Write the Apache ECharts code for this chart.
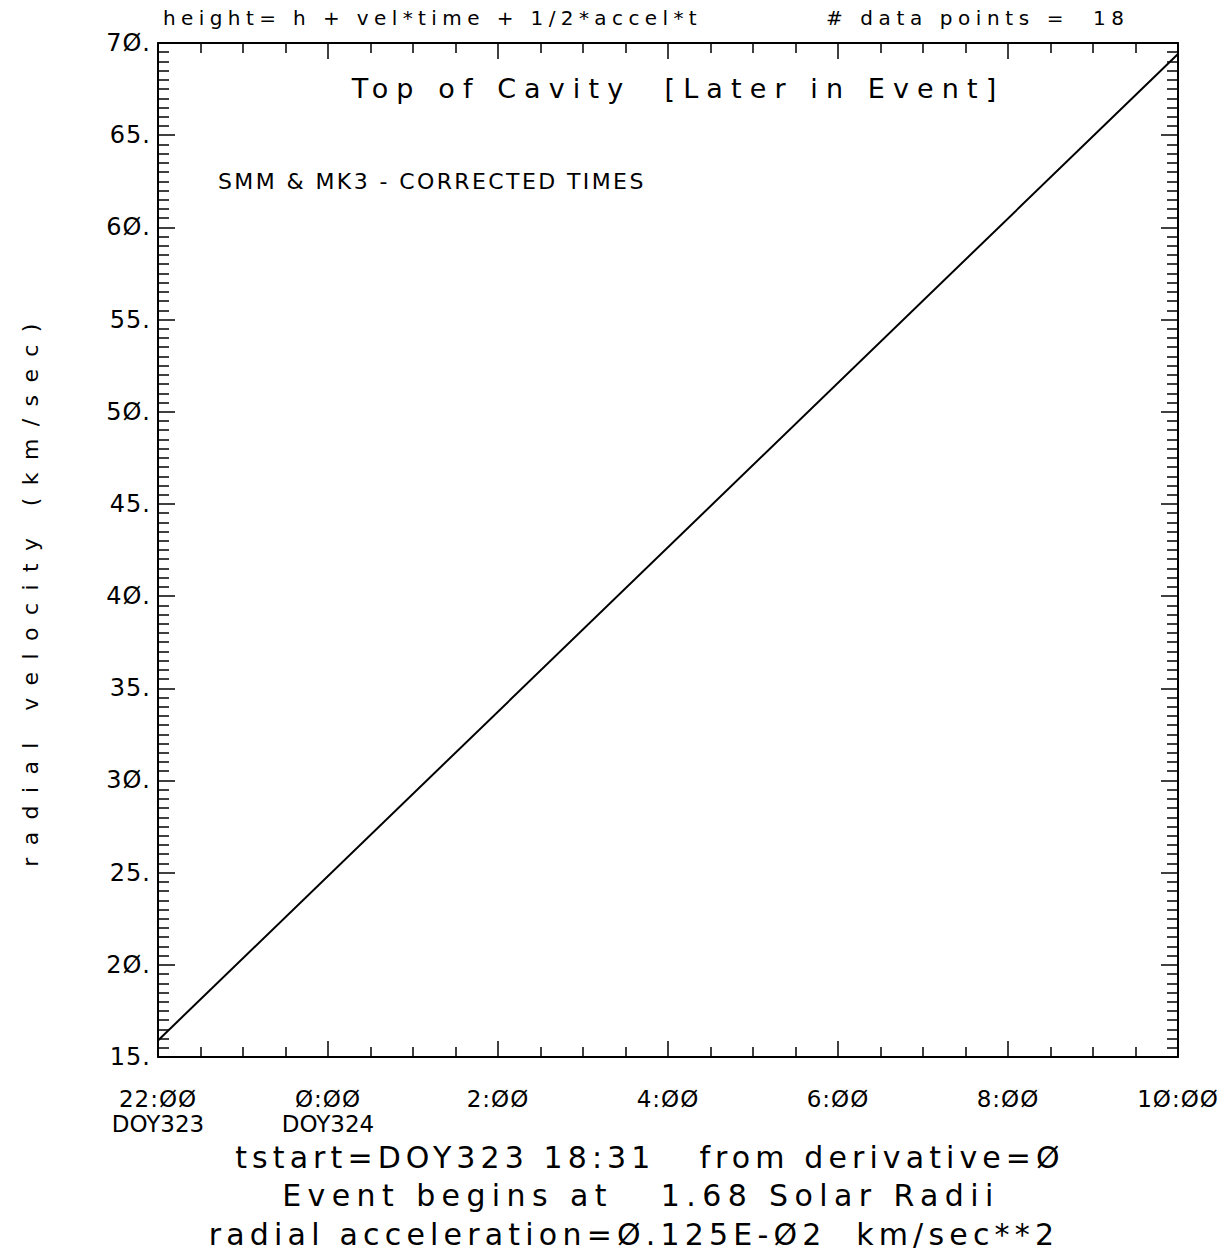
<!DOCTYPE html>
<html>
<head>
<meta charset="utf-8">
<script src="https://cdn.jsdelivr.net/npm/echarts@6/dist/echarts.min.js"></script>
<style>
    html, body { margin: 0; padding: 0; background: #ffffff; }
    #chart { width: 1224px; height: 1252px; }
    #chart text { letter-spacing: 1px; }
</style>
</head>
<body>
<div id="chart"></div>
<script>
// fitted radial velocity, hours counted from DOY323 00:00
const timeHours = [22, 34];
const velocity = [15.9, 69.4];

// tick labels (the plot uses slashed zeros)
const xTickValues = [22, 24, 26, 28, 30, 32, 34];
const xTickLabels = ['22:ØØ\nDOY323', 'Ø:ØØ\nDOY324', '2:ØØ', '4:ØØ', '6:ØØ', '8:ØØ', '1Ø:ØØ'];
const yTickValues = [15, 20, 25, 30, 35, 40, 45, 50, 55, 60, 65, 70];
const yTickLabels = ['15.', '2Ø.', '25.', '3Ø.', '35.', '4Ø.', '45.', '5Ø.', '55.', '6Ø.', '65.', '7Ø.'];

const yAxisTitle = 'radial velocity (km/sec)';
const headerLeft = 'height= h + vel*time + 1/2*accel*t';
const headerRight = '# data points =  18';
const plotTitle = 'Top of Cavity  [Later in Event]';
const plotNote = 'SMM & MK3 - CORRECTED TIMES';
const footerLines = [
    'tstart=DOY323 18:31   from derivative=Ø',
    'Event begins at   1.68 Solar Radii',
    'radial acceleration=Ø.125E-Ø2  km/sec**2'
];

document.addEventListener('DOMContentLoaded', function() {
    initializeChart();
});

function initializeChart() {
    const font = 'DejaVu Sans';
    const ink = '#000000';
    const chart = echarts.init(document.getElementById('chart'), null, { renderer: 'svg' });

    const tickStyle = { color: ink, width: 1.5 };

    function xAxisBase(position, showLabels) {
        return {
            type: 'value',
            position: position,
            min: 22,
            max: 34,
            interval: 2,
            axisLine: { show: true, onZero: false, lineStyle: { color: ink, width: 2 } },
            axisTick: { show: true, inside: true, length: 16, lineStyle: tickStyle },
            minorTick: { show: true, splitNumber: 4, length: 10, lineStyle: tickStyle },
            splitLine: { show: false },
            axisLabel: {
                show: showLabels,
                margin: 29,
                color: ink,
                fontFamily: font,
                fontSize: 23,
                lineHeight: 25,
                formatter: function(v) {
                    const i = xTickValues.indexOf(v);
                    return i >= 0 ? xTickLabels[i] : '';
                }
            }
        };
    }

    function yAxisBase(position, showLabels) {
        return {
            type: 'value',
            position: position,
            min: 15,
            max: 70,
            interval: 5,
            axisLine: { show: true, onZero: false, lineStyle: { color: ink, width: 2 } },
            axisTick: { show: true, inside: true, length: 17, lineStyle: tickStyle },
            minorTick: { show: true, splitNumber: 10, length: 11, lineStyle: tickStyle },
            splitLine: { show: false },
            axisLabel: {
                show: showLabels,
                margin: 7,
                color: ink,
                fontFamily: font,
                fontSize: 24,
                formatter: function(v) {
                    const i = yTickValues.indexOf(v);
                    return i >= 0 ? yTickLabels[i] : '';
                }
            }
        };
    }

    function label(text, x, y, size, align) {
        return {
            type: 'text',
            style: { x: x, y: y, text: text, fill: ink, fontFamily: font, fontSize: size, textAlign: align, textVerticalAlign: 'middle' }
        };
    }

    const footerY = [1157, 1195, 1234];
    const footerX = [650, 641, 634];

    const yTitle = label(yAxisTitle, 0, 0, 22, 'center');
    yTitle.x = 30;
    yTitle.y = 589;
    yTitle.rotation = Math.PI / 2;

    const option = {
        animation: false,
        backgroundColor: '#ffffff',
        grid: { left: 158, right: 46, top: 43, bottom: 195, containLabel: false },
        xAxis: [xAxisBase('bottom', true), xAxisBase('top', false)],
        yAxis: [yAxisBase('left', true), yAxisBase('right', false)],
        graphic: [
            yTitle,
            label(headerLeft, 163, 18, 20, 'left'),
            label(headerRight, 826, 18, 20, 'left'),
            label(plotTitle, 678, 88, 27, 'center'),
            label(plotNote, 218, 181, 22, 'left')
        ].concat(footerLines.map(function(line, i) {
            return label(line, footerX[i], footerY[i], 30, 'center');
        })),
        series: [
            {
                type: 'line',
                xAxisIndex: 0,
                yAxisIndex: 0,
                symbol: 'none',
                lineStyle: { color: ink, width: 2 },
                data: timeHours.map(function(t, i) { return [t, velocity[i]]; })
            }
        ]
    };

    chart.setOption(option);

    // the plotter's lettering is widely spaced; widen each text run to match
    const spacing = {};
    spacing[yAxisTitle] = 12.4;
    spacing[headerLeft] = 5.4;
    spacing[headerRight] = 5.6;
    spacing[plotTitle] = 8.1;
    spacing[plotNote] = 2.4;
    spacing[footerLines[0]] = 5.1;
    spacing[footerLines[1]] = 6.4;
    spacing[footerLines[2]] = 5.2;

    function applySpacing() {
        document.querySelectorAll('#chart text').forEach(function(el) {
            const t = el.textContent;
            let s = 1;
            if (spacing.hasOwnProperty(t)) {
                s = spacing[t];
            } else if (t.indexOf('DOY') === 0) {
                s = 0;
            }
            el.style.letterSpacing = s + 'px';
        });
    }
    applySpacing();
    chart.on('finished', applySpacing);
}
</script>
</body>
</html>
